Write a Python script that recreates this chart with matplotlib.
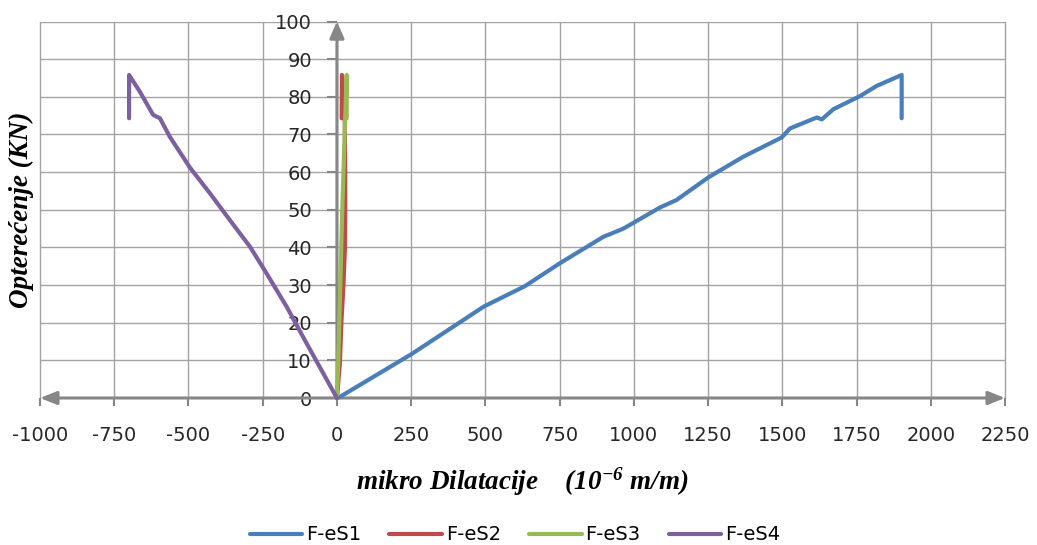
import matplotlib
matplotlib.use("Agg")
import matplotlib.pyplot as plt

plt.rcParams["axes.unicode_minus"] = False
plt.rcParams["mathtext.fontset"] = "custom"
plt.rcParams["mathtext.rm"] = "Liberation Serif:bold:italic"
plt.rcParams["mathtext.it"] = "Liberation Serif:bold:italic"
plt.rcParams["mathtext.bf"] = "Liberation Serif:bold:italic"

# ---- data ----
s1_x = [0, 10, 252, 495, 633, 751, 897, 953, 965, 1088, 1144, 1251, 1369, 1498, 1526, 1616, 1633, 1672, 1762, 1818, 1902, 1902]
s1_y = [0, 0.3, 11.7, 24.3, 29.7, 35.8, 42.8, 44.6, 45.0, 50.6, 52.6, 58.6, 64.1, 69.2, 71.6, 74.5, 74.0, 76.7, 80.2, 82.9, 85.8, 74.3]

s2_x = [0, 10, 15, 22, 27, 28, 28, 27, 25, 17, 16]
s2_y = [0, 9.3, 20, 30, 40, 50, 60, 70, 80, 85.8, 74.3]

s3_x = [0, 4.5, 8, 18, 26, 33, 33]
s3_y = [0, 9.3, 20, 50, 70, 85.8, 74.3]

s4_x = [0, -102, -169, -237, -293, -361, -428, -495, -563, -596, -619, -664, -700, -700]
s4_y = [0, 14.5, 24.2, 33.1, 40.2, 47.3, 54.4, 61.2, 69.4, 74.3, 75.2, 81.4, 85.8, 74.3]

series_names = ["F-eS1", "F-eS2", "F-eS3", "F-eS4"]
series_colors = ["#4A7EBB", "#BE4B48", "#98B954", "#7D60A0"]

x_ticks = list(range(-1000, 2251, 250))
y_ticks = list(range(0, 101, 10))

# ---- figure ----
W, H = 1037, 545
fig = plt.figure(figsize=(W / 100, H / 100), dpi=100)
ax = fig.add_axes([40 / W, 1 - 398 / H, (1005 - 40) / W, (398 - 21.5) / H])

ax.set_xlim(-1000, 2250)
ax.set_ylim(0, 100)
ax.set_xticks(x_ticks)
ax.set_yticks(y_ticks)

grid_c = "#a3a3a3"
axis_c = "#878787"
ax.grid(True, color=grid_c, lw=1.0)
for gl in ax.get_xgridlines() + ax.get_ygridlines():
    gl.set_clip_on(False)

for sp in ax.spines.values():
    sp.set_visible(False)
ax.spines["left"].set_position(("data", 0))

sans = ["DejaVu Sans"]
ax.tick_params(axis="x", direction="out", length=6, width=1.5, color=axis_c,
               pad=14, labelsize=14, labelcolor="#262626")
ax.tick_params(axis="y", direction="out", length=7, width=1.5, color=axis_c,
               pad=11, labelsize=14, labelcolor="#262626")
for lab in ax.get_xticklabels() + ax.get_yticklabels():
    lab.set_fontfamily(sans)

# lines
data = [(s1_x, s1_y), (s2_x, s2_y), (s3_x, s3_y), (s4_x, s4_y)]
for (xs, ys), name, col in zip(data, series_names, series_colors):
    ax.plot(xs, ys, color=col, lw=3.0, label=name, solid_capstyle="round",
            solid_joinstyle="round", zorder=3, clip_on=False)

# axes with arrowheads
ax.annotate("", xy=(2250, 0), xytext=(-1000, 0), xycoords="data",
            arrowprops=dict(arrowstyle="<|-|>,head_length=0.5,head_width=0.2",
                            mutation_scale=20, color=axis_c, lw=2.2,
                            shrinkA=0, shrinkB=0), annotation_clip=False, zorder=2)
ax.annotate("", xy=(0, 100), xytext=(0, 0), xycoords="data",
            arrowprops=dict(arrowstyle="-|>,head_length=0.5,head_width=0.22",
                            mutation_scale=20, color=axis_c, lw=2.2,
                            shrinkA=0, shrinkB=0), annotation_clip=False, zorder=2)

# labels
serif = ["Liberation Serif", "DejaVu Serif"]
ax.set_ylabel("Opterećenje (KN)", fontsize=19.5, fontweight="bold", fontstyle="italic",
              family=serif, color="#000000")
ax.yaxis.set_label_coords((34 - 40) / (1005 - 40), 0.5)
ax.set_xlabel("mikro Dilatacije    (10$^{-6}$ m/m)", fontsize=19.5, fontweight="bold",
              fontstyle="italic", family=serif, color="#000000")
ax.xaxis.set_label_coords(0.5, -(466 - 398) / (398 - 21.5))

fig.legend(loc="center", bbox_to_anchor=(515 / W, 1 - 535 / H), ncol=4, frameon=False,
           handlelength=2.7, handletextpad=0.2, columnspacing=1.45,
           prop=dict(family=sans, size=14))

fig.savefig("out.png", dpi=100)
